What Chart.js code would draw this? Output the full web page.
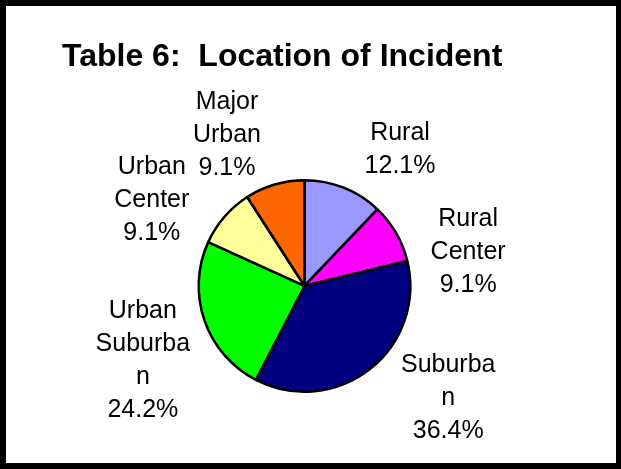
<!DOCTYPE html>
<html>
<head>
<meta charset="utf-8">
<script src="https://cdn.jsdelivr.net/npm/chart.js@4/dist/chart.umd.min.js"></script>
<style>
  html, body { margin: 0; padding: 0; background: #fff; }
  #wrap { position: relative; width: 621px; height: 469px; }
  canvas { display: block; }
</style>
</head>
<body>
<div id="wrap"><canvas id="c" width="621" height="469"></canvas></div>
<script>
// ---- data ----
const chartTitle = 'Table 6:  Location of Incident';
const categories = ['Rural', 'Rural Center', 'Suburban', 'Urban Suburban', 'Urban Center', 'Major Urban'];
const percentages = [12.1, 9.1, 36.4, 24.2, 9.1, 9.1];
const labelLines = [
  ['Rural'],
  ['Rural', 'Center'],
  ['Suburba', 'n'],
  ['Urban', 'Suburba', 'n'],
  ['Urban', 'Center'],
  ['Major', 'Urban']
];
const sliceColors = ['#9999FF', '#FF00FF', '#000080', '#00FF00', '#FFFF99', '#FF6600'];

// ---- label layout (polar, relative to pie centre & radius) ----
const labelPlacement = [
  { deg: 35.0, k: 1.574 },
  { deg: 78.2, k: 1.580 },
  { deg: 128.0, k: 1.724 },
  { deg: 245.2, k: 1.683 },
  { deg: 299.3, k: 1.655 },
  { deg: 332.8, k: 1.603 }
];

const outsideLabels = {
  id: 'outsideLabels',
  afterDatasetsDraw(chart) {
    const ctx = chart.ctx;
    const meta = chart.getDatasetMeta(0);
    const ds = chart.data.datasets[0];
    ctx.save();
    ctx.font = '25px "Liberation Sans", Arial, sans-serif';
    ctx.fillStyle = '#000';
    ctx.textAlign = 'center';
    ctx.textBaseline = 'middle';
    const lh = 33;
    meta.data.forEach((arc, i) => {
      const p = labelPlacement[i];
      const a = p.deg * Math.PI / 180;
      const r = arc.outerRadius * p.k;
      const cx = arc.x + r * Math.sin(a);
      const cy = arc.y - r * Math.cos(a);
      const lines = labelLines[i].concat([ds.data[i].toFixed(1) + '%']);
      const n = lines.length;
      lines.forEach((t, j) => {
        ctx.fillText(t, cx, cy + (j - (n - 1) / 2) * lh);
      });
    });
    ctx.restore();
  }
};

const frame = {
  id: 'frame',
  afterDraw(chart) {
    const ctx = chart.ctx;
    ctx.save();
    ctx.fillStyle = '#000';
    const W = chart.width, H = chart.height;
    ctx.fillRect(0, 0, W, 6);
    ctx.fillRect(0, 0, 6, H);
    ctx.fillRect(W - 5, 0, 5, H);
    ctx.fillRect(0, H - 6, W, 6);
    ctx.restore();
  }
};

new Chart(document.getElementById('c'), {
  type: 'pie',
  data: {
    labels: categories,
    datasets: [{
      data: percentages,
      backgroundColor: sliceColors,
      borderColor: '#000',
      borderWidth: 2.5
    }]
  },
  options: {
    responsive: false,
    animation: false,
    layout: { padding: { left: 62, right: 74, top: 0, bottom: 76 } },
    plugins: {
      legend: { display: false },
      tooltip: { enabled: false },
      title: {
        display: true,
        text: chartTitle,
        align: 'start',
        color: '#000',
        font: { family: '"Liberation Sans", Arial, sans-serif', size: 32, weight: 'bold', lineHeight: 1.2 },
        padding: { top: 37.5, bottom: 103 }
      }
    }
  },
  plugins: [outsideLabels, frame]
});
</script>
</body>
</html>
